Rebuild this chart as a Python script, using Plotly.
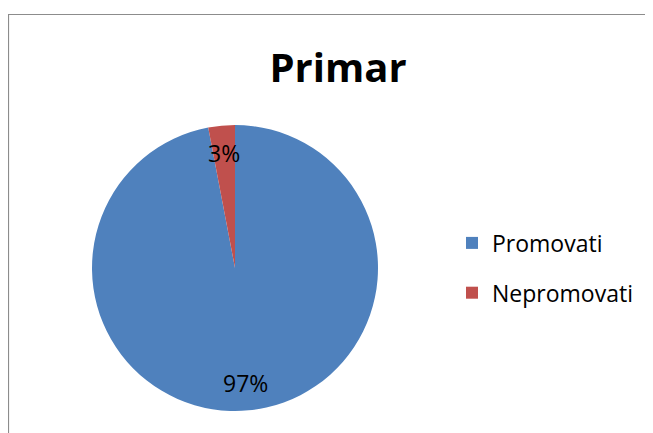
import math

import plotly.graph_objects as go

# data
labels = ["Promovati", "Nepromovati"]
values = [97, 3]
colors = ["#4F81BD", "#C0504D"]
title = "Primar"

# the page body has an 8px margin, so the figure is sized to fit the window
OFF = 8
W, H = 653 - OFF, 433 - OFF
FONT = "Open Sans"
TEXT_SIZE = 23
LEGEND_ROW = 36  # legend font size only used to space the rows like Excel


def px(x):
    return (x - OFF) / W


def py(y):
    return 1 - (y - OFF) / H


# pie geometry (screen pixels)
CX, CY, R = 235, 268, 143
LABEL_R = 0.81  # labels sit at ~81% of radius along each slice's mid-angle

legend_labels = [
    f"<span style='font-size:{TEXT_SIZE}px;baseline-shift:5px'>{lab}</span>"
    for lab in labels
]

fig = go.Figure()

fig.add_trace(go.Pie(
    labels=legend_labels,
    values=values,
    sort=False,
    direction="clockwise",
    rotation=0,
    marker=dict(colors=colors, line=dict(width=0)),
    textinfo="none",
    domain=dict(x=[px(CX - R), px(CX + R)], y=[py(CY + R), py(CY - R)]),
    hoverinfo="label+value+percent",
))

# percent labels placed along slice mid-angles, computed from the values
total = sum(values)
annotations = []
cum = 0
for v in values:
    mid = (cum + v / 2) / total * 2 * math.pi
    cum += v
    dx = LABEL_R * R * math.sin(mid)
    dy = LABEL_R * R * math.cos(mid)
    annotations.append(dict(
        text=f"{round(v / total * 100)}%",
        x=px(CX + dx), y=py(CY - dy),
        xref="paper", yref="paper",
        xanchor="center", yanchor="middle",
        showarrow=False,
        font=dict(family=FONT, size=TEXT_SIZE, color="black"),
    ))

fig.update_layout(
    width=W,
    height=H,
    margin=dict(l=0, r=0, t=0, b=0),
    paper_bgcolor="white",
    plot_bgcolor="white",
    font=dict(family=FONT, color="black"),
    title=dict(
        text="<b>" + title + "</b>",
        x=px(338), xanchor="center",
        y=py(68), yanchor="middle",
        font=dict(family=FONT, size=40, color="black"),
    ),
    legend=dict(
        x=px(452), xanchor="left",
        y=py(268), yanchor="middle",
        font=dict(family=FONT, size=LEGEND_ROW, color="black"),
        bgcolor="rgba(0,0,0,0)",
        itemclick=False,
    ),
    annotations=annotations,
    shapes=[dict(
        type="rect", xref="paper", yref="paper",
        x0=px(8.5), x1=1.2, y0=-0.2, y1=py(14.5),
        line=dict(color="#8c8c8c", width=1.2),
        fillcolor="rgba(0,0,0,0)",
        layer="below",
    )],
)

fig.write_html("out.html")
